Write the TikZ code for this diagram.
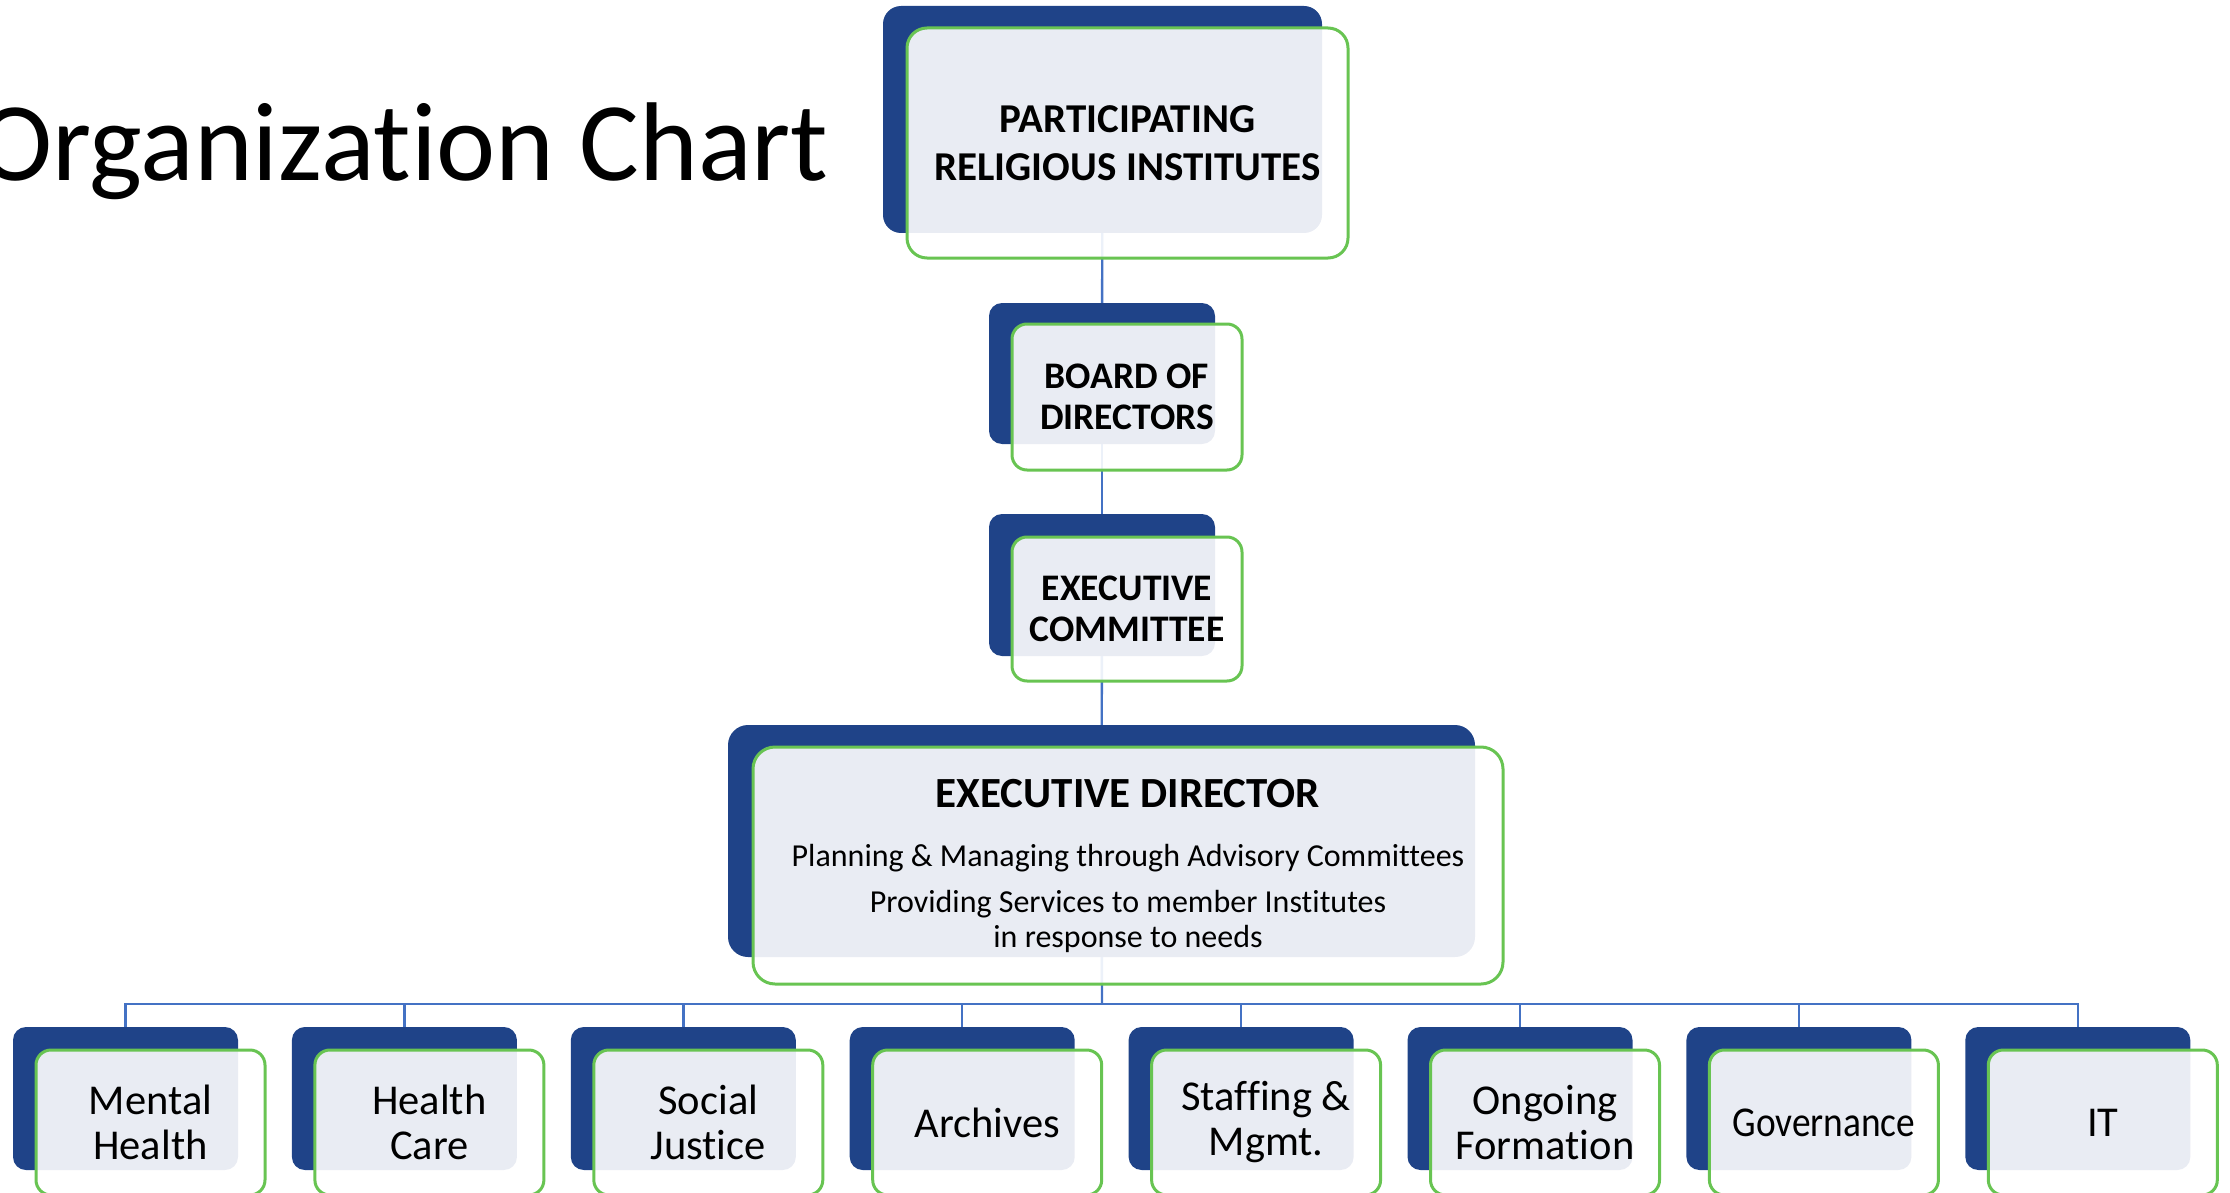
\documentclass[tikz,border=0pt]{standalone}
\usepackage{fontspec}
\setmainfont{Carlito}[Ligatures=NoCommon]
\usetikzlibrary{backgrounds}

\definecolor{navy}{RGB}{31,67,136}
\definecolor{leaf}{RGB}{104,196,82}
\definecolor{wire}{RGB}{68,114,196}

\begin{document}
\begin{tikzpicture}[x=1pt,y=-1pt]
\tikzset{backbox/.style={fill=navy, draw=none, inner sep=0pt, outer sep=0pt},
  frontbox/.style={draw=leaf, line width=3pt, fill=white, fill opacity=0.9, text opacity=1,
    inner sep=0pt, outer sep=0pt, align=center, text=black},
  wireline/.style={draw=wire, line width=2.4pt}}
\useasboundingbox (0,0) rectangle (2230,1193);
% title
\node[anchor=base east, inner sep=0pt, font=\fontsize{112}{112}\selectfont] (title) at (829,181) {Organization Chart};
% upper levels
\node[backbox, rounded corners=18pt, minimum width=439pt, minimum height=227pt] (prib) at (1102.5,119.5) {};
\node[frontbox, rounded corners=20pt, minimum width=441pt, minimum height=230pt,
  font=\fontsize{41}{48}\selectfont\bfseries] (pri) at (1127.5,143)
  {PARTICIPATING\\RELIGIOUS INSTITUTES};
\node[backbox, rounded corners=13pt, minimum width=226pt, minimum height=141pt] (bodb) at (1102,373.5) {};
\node[frontbox, rounded corners=15pt, minimum width=230pt, minimum height=146pt,
  font=\fontsize{37.5}{41}\selectfont\bfseries] (bod) at (1127,397)
  {BOARD OF\\DIRECTORS};
\node[backbox, rounded corners=13pt, minimum width=226pt, minimum height=142pt] (excb) at (1102,585) {};
\node[frontbox, rounded corners=15pt, minimum width=230pt, minimum height=144pt,
  font=\fontsize{37.5}{41}\selectfont\bfseries] (exc) at (1127,609)
  {EXECUTIVE\\COMMITTEE};
\node[backbox, rounded corners=20pt, minimum width=747pt, minimum height=232pt] (edb) at (1101.5,841) {};
\node[frontbox, rounded corners=22pt, minimum width=750pt, minimum height=237pt,
  font=\fontsize{32}{35}\selectfont] (ed) at (1128,865.5)
  {{\fontsize{43}{43}\selectfont\bfseries EXECUTIVE DIRECTOR}\\[24pt]
   Planning \& Managing through Advisory Committees\\[11pt]
   Providing Services to member Institutes\\in response to needs};
% bottom row
\coordinate (bus) at (1102,1004);
\foreach \i/\txt in {0/{Mental\\Health}, 1/{Health\\Care}, 2/{Social\\Justice}, 3/{Archives},
    4/{Staffing \&\\Mgmt.}, 5/{Ongoing\\Formation}, 6/{\scalebox{0.88}[1]{Governance}}, 7/{IT}} {
  \node[backbox, rounded corners=13pt, minimum width=225pt, minimum height=143pt] (d\i b) at (125.5+278.9*\i,1098.5) {};
  \node[frontbox, rounded corners=15pt, minimum width=229pt, minimum height=145pt,
    font=\fontsize{42.5}{45}\selectfont] (d\i) at (150.5+278.9*\i,1122.5) {\txt};
}
% connectors
\begin{pgfonlayer}{background}
\draw[wireline] (prib.center) -- (bodb.center);
\draw[wireline] (bodb.center) -- (excb.center);
\draw[wireline] (excb.center) -- (edb.center);
\draw[wireline] (edb.center) -- (bus);
\foreach \i in {0,...,7} \draw[wireline] (bus) -| (d\i b.center);
\end{pgfonlayer}
\end{tikzpicture}
\end{document}
